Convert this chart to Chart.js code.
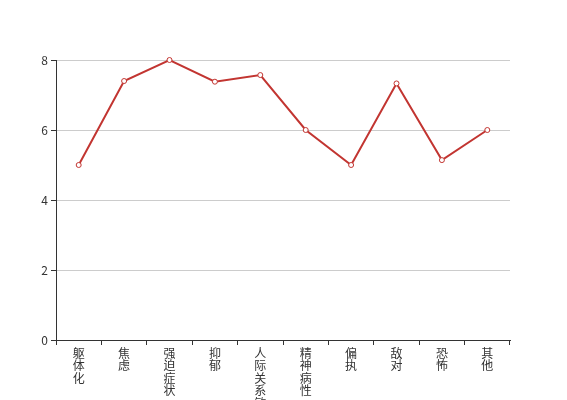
<!DOCTYPE html>
<html>
<head>
<meta charset="utf-8">
<script src="https://cdn.jsdelivr.net/npm/chart.js@4/dist/chart.umd.min.js"></script>
<style>
  html, body { margin: 0; padding: 0; background: #fff; }
  #wrap { width: 567px; height: 400px; }
</style>
</head>
<body>
<div id="wrap"><canvas id="chart" width="567" height="400"></canvas></div>
<script>
const categories = ["躯体化", "焦虑", "强迫症状", "抑郁", "人际关系敏感", "精神病性", "偏执", "敌对", "恐怖", "其他"];
const scores = [5, 7.4, 8, 7.38, 7.57, 6, 5, 7.33, 5.14, 6];
const yTicks = [0, 2, 4, 6, 8];

const axisColor = "#333";
const font = { family: "'Noto Sans CJK SC', 'DejaVu Sans', sans-serif", size: 12 };

new Chart(document.getElementById("chart"), {
  type: "line",
  data: {
    // stack characters vertically like the original
    labels: categories.map((c) => c.split("")),
    datasets: [
      {
        data: scores,
        borderColor: "#c23531",
        borderWidth: 2,
        pointBackgroundColor: "#fff",
        pointBorderColor: "#c23531",
        pointBorderWidth: 1,
        pointRadius: 2.5,
        tension: 0,
        clip: false,
      },
    ],
  },
  options: {
    responsive: false,
    animation: false,
    layout: { padding: { left: 0, right: 57, top: 60, bottom: 0 } },
    plugins: { legend: { display: false }, tooltip: { enabled: false } },
    scales: {
      x: {
        offset: true,
        grid: { offset: true, drawOnChartArea: false, tickLength: 5, tickColor: axisColor },
        border: { color: axisColor, width: 1 },
        ticks: { color: axisColor, font: { ...font, lineHeight: 1.04 }, padding: 2, maxRotation: 0, autoSkip: false },
        afterFit: (s) => { s.height = 60; },
      },
      y: {
        min: 0,
        max: 8,
        afterBuildTicks: (s) => { s.ticks = yTicks.map((v) => ({ value: v })); },
        grid: { color: "#ccc", tickLength: 5, tickColor: axisColor },
        border: { color: axisColor, width: 1 },
        ticks: { color: axisColor, font, padding: 3 },
        afterFit: (s) => { s.width = 56; },
      },
    },
  },
});
</script>
</body>
</html>
